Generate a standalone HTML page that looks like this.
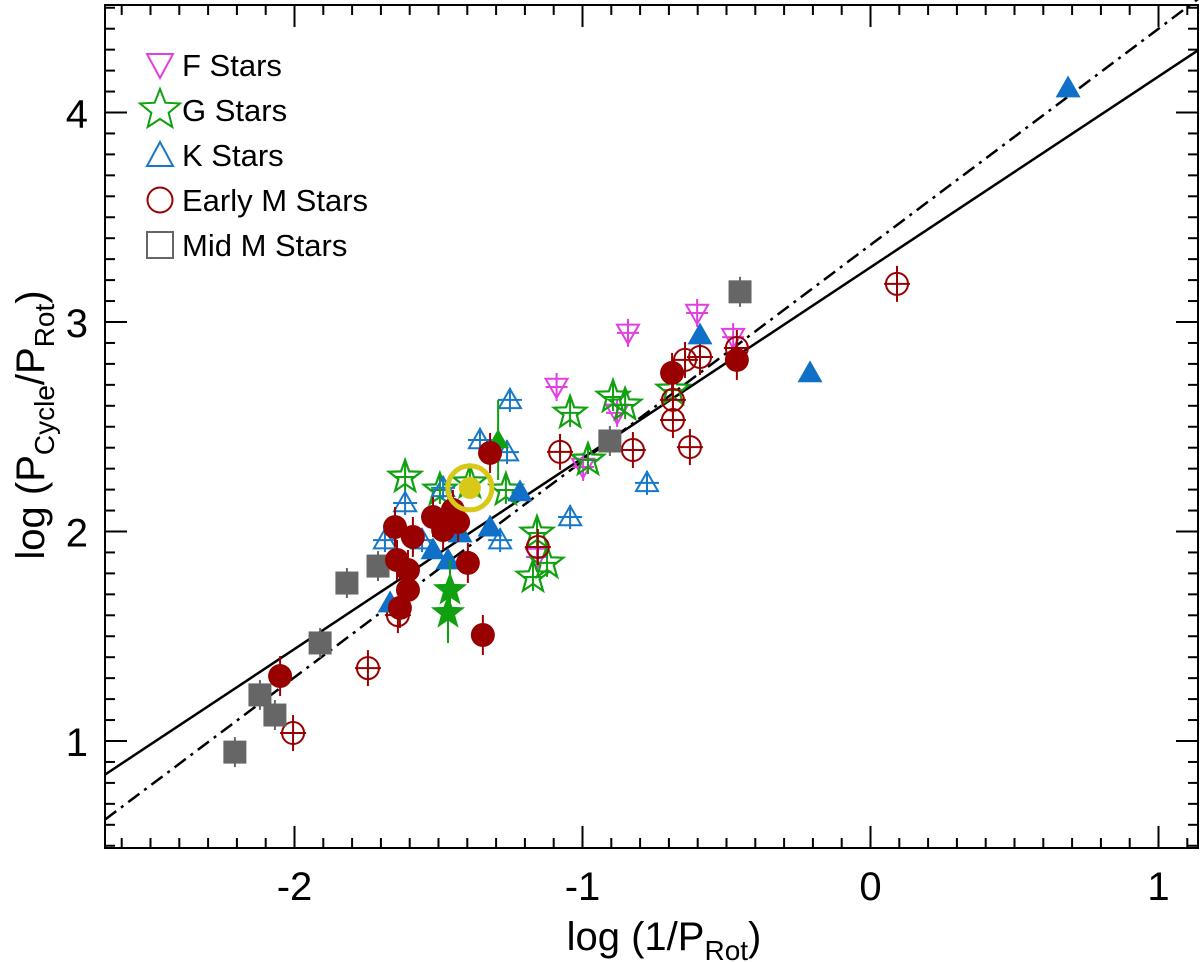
<!DOCTYPE html>
<html><head><meta charset="utf-8"><style>
html,body{margin:0;padding:0;background:#fff;}
svg{display:block;font-family:"Liberation Sans",Arial,sans-serif;}
</style></head><body>
<svg id="chart" width="1200" height="962" viewBox="0 0 1200 962" xmlns="http://www.w3.org/2000/svg">
<g id="marks"></g>
<g id="axes"></g>
<g id="legend"></g>
</svg>
<script>
// ---- data ----
const xTicks = [-2, -1, 0, 1];
const xTickLabels = ["-2", "-1", "0", "1"];
const yTicks = [1, 2, 3, 4];
const yTickLabels = ["1", "2", "3", "4"];
const fitSolid = [0.911, 3.261];   // slope, intercept
const fitDashDot = [1.032, 3.368];

const fOpenX = [-0.602, -0.842, -1.090, -0.477, -0.880, -0.998, -1.158];
const fOpenY = [3.043, 2.948, 2.690, 2.928, 2.566, 2.308, 1.878];

const gOpenX = [-1.616, -1.495, -1.266, -1.158, -1.172, -1.123, -1.391, -1.043, -0.894, -0.852, -0.981, -0.686];
const gOpenY = [2.260, 2.198, 2.198, 1.993, 1.783, 1.850, 2.232, 2.566, 2.642, 2.604, 2.341, 2.675];
const gFillX = [-1.460, -1.467];
const gFillY = [1.721, 1.611];
const gTriX = [-1.293];
const gTriY = [2.437];

const kOpenX = [-1.252, -1.356, -1.262, -1.616, -1.686, -1.286, -1.484, -0.776, -1.043, -1.557];
const kOpenY = [2.628, 2.437, 2.379, 2.136, 1.959, 1.959, 2.208, 2.232, 2.069, 1.959];
const kFillX = [0.686, -0.592, -0.210, -1.217, -1.321, -1.519, -1.467, -1.668, -1.425];
const kFillY = [4.117, 2.938, 2.757, 2.189, 2.021, 1.912, 1.864, 1.659, 1.993];

const mOpenX = [0.092, -0.464, -0.592, -0.644, -0.686, -0.686, -1.078, -0.825, -0.627, -1.155, -1.745, -2.005, -1.641];
const mOpenY = [3.182, 2.876, 2.833, 2.819, 2.628, 2.532, 2.380, 2.389, 2.403, 1.926, 1.348, 1.038, 1.601];
const mFillX = [-1.321, -1.651, -1.519, -1.589, -1.484, -1.432, -1.450, -1.644, -1.606, -1.606, -1.634, -1.398, -1.346, -2.050, -0.689, -0.464];
const mFillY = [2.375, 2.021, 2.069, 1.974, 2.007, 2.045, 2.103, 1.864, 1.816, 1.721, 1.635, 1.850, 1.506, 1.310, 2.757, 2.819];

const midMX = [-0.453, -0.905, -1.710, -1.818, -1.911, -2.120, -2.068, -2.207];
const midMY = [3.144, 2.432, 1.835, 1.754, 1.468, 1.220, 1.124, 0.947];

const sunX = [-1.391];
const sunY = [2.208];

// ---- axes ----
const L = 105, R = 1198, T = 5, B = 848;
const X0 = 870.5, XS = 288, Y0 = 950.5, YS = 209.5;
function sx(v) { return X0 + v * XS; }
function sy(v) { return Y0 - v * YS; }
const xMin = (L - X0) / XS, xMax = (R - X0) / XS;
const yMin = (Y0 - B) / YS, yMax = (Y0 - T) / YS;

const NS = "http://www.w3.org/2000/svg";
function mk(tag, attrs, parent) {
  const e = document.createElementNS(NS, tag);
  for (const k in attrs) e.setAttribute(k, attrs[k]);
  parent.appendChild(e);
  return e;
}
const marks = document.getElementById('marks');
const axes = document.getElementById('axes');
const legend = document.getElementById('legend');

function fitLine(fit, dash, name) {
  const el = mk('line', {x1: sx(xMin), y1: sy(fit[0] * xMin + fit[1]), x2: sx(xMax), y2: sy(fit[0] * xMax + fit[1]), stroke: '#000', 'stroke-width': 2.5, 'stroke-dasharray': dash}, marks);
  
  
}

function triUp(cx, cy, s) { return `${cx},${cy - s} ${cx - s},${cy + s * 0.75} ${cx + s},${cy + s * 0.75}`; }
function triDown(cx, cy, s) { return `${cx},${cy + s} ${cx - s},${cy - s * 0.75} ${cx + s},${cy - s * 0.75}`; }
function starPts(cx, cy, ro, ri) {
  const p = [];
  for (let i = 0; i < 10; i++) {
    const r = i % 2 ? ri : ro;
    const a = -Math.PI / 2 + i * Math.PI / 5;
    p.push((cx + r * Math.cos(a)).toFixed(1) + ',' + (cy + r * Math.sin(a)).toFixed(1));
  }
  return p.join(' ');
}
function errCross(g, cx, cy, col, v, h) {
  mk('line', {x1: cx, y1: cy - v, x2: cx, y2: cy + v, stroke: col, 'stroke-width': 2}, g);
  mk('line', {x1: cx - h, y1: cy, x2: cx + h, y2: cy, stroke: col, 'stroke-width': 2}, g);
}

function drawSeries(xs, ys, kind, name) {
  const g = mk('g', {}, marks);
  
  
  for (let i = 0; i < xs.length; i++) {
    const cx = sx(xs[i]), cy = sy(ys[i]);
    let el;
    if (kind === 'fOpen') {
      el = mk('polygon', {points: triDown(cx, cy, 11), fill: 'none', stroke: '#e040e0', 'stroke-width': 2}, g);
      errCross(g, cx, cy, '#e040e0', 14, 11);
    } else if (kind === 'gOpen') {
      el = mk('polygon', {points: starPts(cx, cy, 17, 7), fill: 'none', stroke: '#10a010', 'stroke-width': 2.2}, g);
      errCross(g, cx, cy, '#10a010', 14, 10);
    } else if (kind === 'gFill') {
      mk('line', {x1: cx, y1: cy - 30, x2: cx, y2: cy + 30, stroke: '#10a010', 'stroke-width': 2}, g);
      el = mk('polygon', {points: starPts(cx, cy, 18, 7.5), fill: '#10a010'}, g);
    } else if (kind === 'gTri') {
      mk('line', {x1: cx, y1: cy - 40, x2: cx, y2: cy + 40, stroke: '#10a010', 'stroke-width': 2}, g);
      el = mk('polygon', {points: triUp(cx, cy, 11), fill: '#10a010'}, g);
    } else if (kind === 'kOpen') {
      el = mk('polygon', {points: triUp(cx, cy, 11), fill: 'none', stroke: '#1878c8', 'stroke-width': 2}, g);
      errCross(g, cx, cy, '#1878c8', 12, 12);
    } else if (kind === 'kFill') {
      el = mk('polygon', {points: triUp(cx, cy, 12.5), fill: '#1070c8'}, g);
    } else if (kind === 'mOpen') {
      errCross(g, cx, cy, '#990000', 18, 13);
      el = mk('circle', {cx: cx, cy: cy, r: 11, fill: 'none', stroke: '#990000', 'stroke-width': 2}, g);
    } else if (kind === 'mFill') {
      mk('line', {x1: cx, y1: cy - 20, x2: cx, y2: cy + 20, stroke: '#990000', 'stroke-width': 2}, g);
      el = mk('circle', {cx: cx, cy: cy, r: 12, fill: '#990000'}, g);
    } else if (kind === 'midM') {
      mk('line', {x1: cx, y1: cy - 15, x2: cx, y2: cy + 15, stroke: '#666', 'stroke-width': 2}, g);
      el = mk('rect', {x: cx - 11.5, y: cy - 11.5, width: 23, height: 23, fill: '#666'}, g);
    } else if (kind === 'sun') {
      mk('circle', {cx: cx, cy: cy, r: 22, fill: 'none', stroke: '#d8c818', 'stroke-width': 5}, g);
      el = mk('circle', {cx: cx, cy: cy, r: 11, fill: '#d8c818'}, g);
    }
    
    
  }
}

fitLine(fitSolid, 'none', 'fit-line-solid');
fitLine(fitDashDot, '14 6 3 6', 'fit-line-dash-dot');
drawSeries(fOpenX, fOpenY, 'fOpen', 'f-stars');
drawSeries(gOpenX, gOpenY, 'gOpen', 'g-stars');
drawSeries(kOpenX, kOpenY, 'kOpen', 'k-stars');
drawSeries(mOpenX, mOpenY, 'mOpen', 'early-m-stars');
drawSeries(midMX, midMY, 'midM', 'mid-m-stars');
drawSeries(gTriX, gTriY, 'gTri', 'g-stars-filled-tri');
drawSeries(kFillX, kFillY, 'kFill', 'k-stars-filled');
drawSeries(mFillX, mFillY, 'mFill', 'early-m-stars-filled');
drawSeries(gFillX, gFillY, 'gFill', 'g-stars-filled');
drawSeries(sunX, sunY, 'sun', 'sun');

const frame = mk('rect', {x: L, y: T, width: R - L, height: B - T, fill: 'none', stroke: '#000', 'stroke-width': 2}, axes);


for (let k = Math.ceil(xMin * 10); k <= Math.floor(xMax * 10); k++) {
  const x = sx(k / 10), len = k % 10 === 0 ? 22 : 10;
  mk('line', {x1: x, y1: B, x2: x, y2: B - len, stroke: '#000', 'stroke-width': 2}, axes);
  mk('line', {x1: x, y1: T, x2: x, y2: T + len, stroke: '#000', 'stroke-width': 2}, axes);
}
for (let k = Math.ceil(yMin * 10); k <= Math.floor(yMax * 10); k++) {
  const y = sy(k / 10), len = k % 10 === 0 ? 22 : 10;
  mk('line', {x1: L, y1: y, x2: L + len, y2: y, stroke: '#000', 'stroke-width': 2}, axes);
  mk('line', {x1: R, y1: y, x2: R - len, y2: y, stroke: '#000', 'stroke-width': 2}, axes);
}
xTicks.forEach((v, i) => {
  const t = mk('text', {x: sx(v), y: 900, 'font-size': 40, 'text-anchor': 'middle'}, axes);
  t.textContent = xTickLabels[i];
  
  
});
yTicks.forEach((v, i) => {
  const t = mk('text', {x: 88, y: sy(v) + 15, 'font-size': 40, 'text-anchor': 'end'}, axes);
  t.textContent = yTickLabels[i];
  
  
});
</script>
<script>
const svgEl = document.getElementById('chart');
function addText(html, attrs, name) {
  const t = document.createElementNS("http://www.w3.org/2000/svg", 'text');
  for (const k in attrs) t.setAttribute(k, attrs[k]);
  t.innerHTML = html;
  
  
  svgEl.appendChild(t);
}
addText('log (1/P<tspan font-size="28" dy="10">Rot</tspan><tspan dy="-10">)</tspan>', {x: 664, y: 950, 'font-size': 40, 'text-anchor': 'middle'}, 'x-axis-title');
addText('log (P<tspan font-size="28" dy="10">Cycle</tspan><tspan dy="-10">/P</tspan><tspan font-size="28" dy="10">Rot</tspan><tspan dy="-10">)</tspan>', {x: 0, y: 0, 'font-size': 40, 'text-anchor': 'middle', transform: 'translate(44,425) rotate(-90)'}, 'y-axis-title');

const lg = document.getElementById('legend');
const NS2 = "http://www.w3.org/2000/svg";
const legendLabels = ["F Stars", "G Stars", "K Stars", "Early M Stars", "Mid M Stars"];
const legendRowsY = [65, 110, 155, 200, 245];
legendLabels.forEach((lab, i) => {
  const g = document.createElementNS(NS2, 'g');
  
  
  lg.appendChild(g);
  const cx = 160, cy = legendRowsY[i];
  let sym;
  if (i === 0) { sym = document.createElementNS(NS2, 'polygon'); sym.setAttribute('points', `${cx},${cy+13} ${cx-13},${cy-11} ${cx+13},${cy-11}`); sym.setAttribute('stroke', '#e040e0'); }
  if (i === 1) { sym = document.createElementNS(NS2, 'polygon'); const p=[]; for(let k=0;k<10;k++){const r=k%2?9:21;const a=-Math.PI/2+k*Math.PI/5;p.push((cx+r*Math.cos(a)).toFixed(1)+','+(cy+r*Math.sin(a)).toFixed(1));} sym.setAttribute('points', p.join(' ')); sym.setAttribute('stroke', '#10a010'); }
  if (i === 2) { sym = document.createElementNS(NS2, 'polygon'); sym.setAttribute('points', `${cx},${cy-13} ${cx-13},${cy+11} ${cx+13},${cy+11}`); sym.setAttribute('stroke', '#1878c8'); }
  if (i === 3) { sym = document.createElementNS(NS2, 'circle'); sym.setAttribute('cx', cx); sym.setAttribute('cy', cy); sym.setAttribute('r', 12.5); sym.setAttribute('stroke', '#990000'); }
  if (i === 4) { sym = document.createElementNS(NS2, 'rect'); sym.setAttribute('x', cx-13); sym.setAttribute('y', cy-13); sym.setAttribute('width', 26); sym.setAttribute('height', 26); sym.setAttribute('stroke', '#666'); }
  sym.setAttribute('fill', 'none');
  sym.setAttribute('stroke-width', 2);
  
  
  g.appendChild(sym);
  const t = document.createElementNS(NS2, 'text');
  t.setAttribute('x', 182); t.setAttribute('y', cy + 11); t.setAttribute('font-size', 31);
  t.textContent = lab;
  
  
  g.appendChild(t);
});
</script>
</body></html>
